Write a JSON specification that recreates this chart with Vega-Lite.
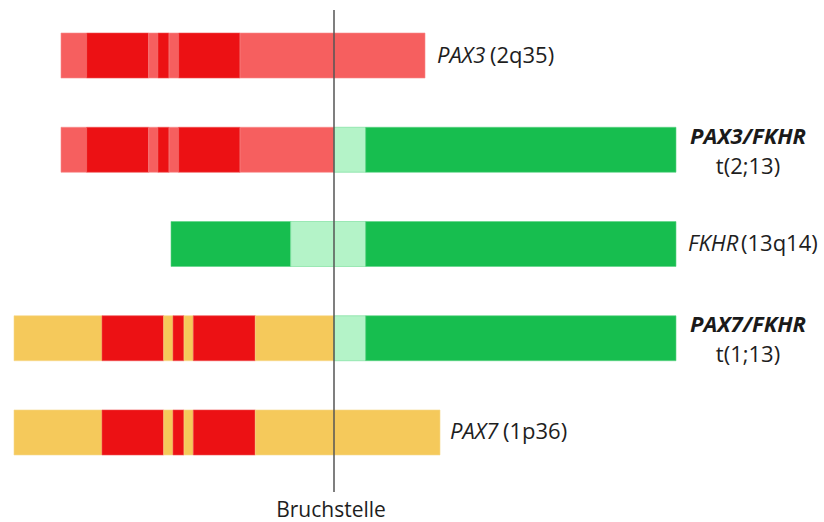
{
  "$schema": "https://vega.github.io/schema/vega-lite/v6.json",
  "width": 824,
  "height": 522,
  "autosize": {"type": "none"},
  "padding": 0,
  "background": "white",
  "config": {"view": {"stroke": null}, "font": "Open Sans"},
  "datasets": {
    "segs": [
      {"row": "PAX3", "start": 61, "end": 86.7, "type": "lightred"},
      {"row": "PAX3", "start": 86.7, "end": 148.7, "type": "darkred"},
      {"row": "PAX3", "start": 148.7, "end": 158, "type": "lightred"},
      {"row": "PAX3", "start": 158, "end": 169, "type": "darkred"},
      {"row": "PAX3", "start": 169, "end": 178.7, "type": "lightred"},
      {"row": "PAX3", "start": 178.7, "end": 240, "type": "darkred"},
      {"row": "PAX3", "start": 240, "end": 425, "type": "lightred"},

      {"row": "PAX3/FKHR", "start": 61, "end": 86.7, "type": "lightred"},
      {"row": "PAX3/FKHR", "start": 86.7, "end": 148.7, "type": "darkred"},
      {"row": "PAX3/FKHR", "start": 148.7, "end": 158, "type": "lightred"},
      {"row": "PAX3/FKHR", "start": 158, "end": 169, "type": "darkred"},
      {"row": "PAX3/FKHR", "start": 169, "end": 178.7, "type": "lightred"},
      {"row": "PAX3/FKHR", "start": 178.7, "end": 240, "type": "darkred"},
      {"row": "PAX3/FKHR", "start": 240, "end": 334, "type": "lightred"},
      {"row": "PAX3/FKHR", "start": 334, "end": 365.7, "type": "lightgreen"},
      {"row": "PAX3/FKHR", "start": 365.7, "end": 676, "type": "green"},

      {"row": "FKHR", "start": 171, "end": 290.7, "type": "green"},
      {"row": "FKHR", "start": 290.7, "end": 365.7, "type": "lightgreen"},
      {"row": "FKHR", "start": 365.7, "end": 676, "type": "green"},

      {"row": "PAX7/FKHR", "start": 14, "end": 102, "type": "yellow"},
      {"row": "PAX7/FKHR", "start": 102, "end": 163.7, "type": "darkred"},
      {"row": "PAX7/FKHR", "start": 163.7, "end": 173, "type": "yellow"},
      {"row": "PAX7/FKHR", "start": 173, "end": 184, "type": "darkred"},
      {"row": "PAX7/FKHR", "start": 184, "end": 193.3, "type": "yellow"},
      {"row": "PAX7/FKHR", "start": 193.3, "end": 255.3, "type": "darkred"},
      {"row": "PAX7/FKHR", "start": 255.3, "end": 334, "type": "yellow"},
      {"row": "PAX7/FKHR", "start": 334, "end": 365.7, "type": "lightgreen"},
      {"row": "PAX7/FKHR", "start": 365.7, "end": 676, "type": "green"},

      {"row": "PAX7", "start": 14, "end": 102, "type": "yellow"},
      {"row": "PAX7", "start": 102, "end": 163.7, "type": "darkred"},
      {"row": "PAX7", "start": 163.7, "end": 173, "type": "yellow"},
      {"row": "PAX7", "start": 173, "end": 184, "type": "darkred"},
      {"row": "PAX7", "start": 184, "end": 193.3, "type": "yellow"},
      {"row": "PAX7", "start": 193.3, "end": 255.3, "type": "darkred"},
      {"row": "PAX7", "start": 255.3, "end": 440, "type": "yellow"}
    ],
    "labels": [
      {"row": "PAX3", "x": 437, "text": "PAX3", "style": "italic", "line": "single"},
      {"row": "PAX3", "x": 490, "text": "(2q35)", "style": "normal", "line": "single"},
      {"row": "FKHR", "x": 688, "text": "FKHR", "style": "italic", "line": "single"},
      {"row": "FKHR", "x": 741, "text": "(13q14)", "style": "normal", "line": "single"},
      {"row": "PAX7", "x": 450, "text": "PAX7", "style": "italic", "line": "single"},
      {"row": "PAX7", "x": 503, "text": "(1p36)", "style": "normal", "line": "single"},
      {"row": "PAX3/FKHR", "x": 748, "text": "PAX3/FKHR", "style": "bolditalic", "line": "top"},
      {"row": "PAX3/FKHR", "x": 748, "text": "t(2;13)", "style": "normal", "line": "bottom"},
      {"row": "PAX7/FKHR", "x": 748, "text": "PAX7/FKHR", "style": "bolditalic", "line": "top"},
      {"row": "PAX7/FKHR", "x": 748, "text": "t(1;13)", "style": "normal", "line": "bottom"}
    ]
  },
  "layer": [
    {
      "layer": [
        {
          "data": {"name": "segs"},
          "mark": {"type": "rect", "strokeWidth": 1, "strokeOpacity": 0.6},
          "encoding": {
            "x": {"field": "start", "type": "quantitative", "scale": {"domain": [0, 824], "nice": false, "zero": false}, "axis": null},
            "x2": {"field": "end"},
            "y": {"field": "row", "type": "nominal", "scale": {"domain": ["PAX3", "PAX3/FKHR", "FKHR", "PAX7/FKHR", "PAX7"], "range": [8.4, 479.6], "paddingInner": 0.5225, "paddingOuter": 0.26125}, "axis": null},
            "fill": {"field": "type", "type": "nominal", "scale": {"domain": ["lightred", "darkred", "green", "lightgreen", "yellow"], "range": ["#F65F5F", "#EC1114", "#17BE4F", "#B4F3C8", "#F5C95B"]}, "legend": null},
            "stroke": {"field": "type", "type": "nominal", "scale": {"domain": ["lightred", "darkred", "green", "lightgreen", "yellow"], "range": ["#F88A8A", "#F05050", "#5CD483", "#6FDC95", "#F7D88A"]}, "legend": null}
          }
        },
        {
          "data": {"name": "labels"},
          "transform": [{"filter": "datum.style === 'italic'"}],
          "mark": {"type": "text", "fontSize": 22, "fontStyle": "italic", "align": "left", "baseline": "middle", "color": "#1e1e1e"},
          "encoding": {
            "x": {"field": "x", "type": "quantitative"},
            "y": {"field": "row", "type": "nominal"},
            "text": {"field": "text"}
          }
        },
        {
          "data": {"name": "labels"},
          "transform": [{"filter": "datum.style === 'normal' && datum.line === 'single'"}],
          "mark": {"type": "text", "fontSize": 22, "align": "left", "baseline": "middle", "color": "#1e1e1e"},
          "encoding": {
            "x": {"field": "x", "type": "quantitative"},
            "y": {"field": "row", "type": "nominal"},
            "text": {"field": "text"}
          }
        },
        {
          "data": {"name": "labels"},
          "transform": [{"filter": "datum.line === 'top'"}],
          "mark": {"type": "text", "fontSize": 22, "fontStyle": "italic", "fontWeight": "bold", "align": "center", "baseline": "middle", "dy": -13, "color": "#1a1a1a"},
          "encoding": {
            "x": {"field": "x", "type": "quantitative"},
            "y": {"field": "row", "type": "nominal"},
            "text": {"field": "text"}
          }
        },
        {
          "data": {"name": "labels"},
          "transform": [{"filter": "datum.line === 'bottom'"}],
          "mark": {"type": "text", "fontSize": 22, "align": "center", "baseline": "middle", "dy": 17, "color": "#1e1e1e"},
          "encoding": {
            "x": {"field": "x", "type": "quantitative"},
            "y": {"field": "row", "type": "nominal"},
            "text": {"field": "text"}
          }
        }
      ]
    },
    {
      "data": {"values": [{"pos": 334, "top": 10, "bottom": 492, "label": "Bruchstelle", "lx": 331, "ly": 511}]},
      "layer": [
        {
          "mark": {"type": "rule", "color": "#555555", "strokeWidth": 1.5},
          "encoding": {
            "x": {"field": "pos", "type": "quantitative"},
            "y": {"field": "top", "type": "quantitative", "scale": {"domain": [0, 522], "reverse": true, "nice": false}, "axis": null},
            "y2": {"field": "bottom"}
          }
        },
        {
          "mark": {"type": "text", "fontSize": 21, "align": "center", "baseline": "middle", "color": "#1e1e1e"},
          "encoding": {
            "x": {"field": "lx", "type": "quantitative"},
            "y": {"field": "ly", "type": "quantitative"},
            "text": {"field": "label"}
          }
        }
      ]
    }
  ],
  "resolve": {"scale": {"y": "independent"}}
}
